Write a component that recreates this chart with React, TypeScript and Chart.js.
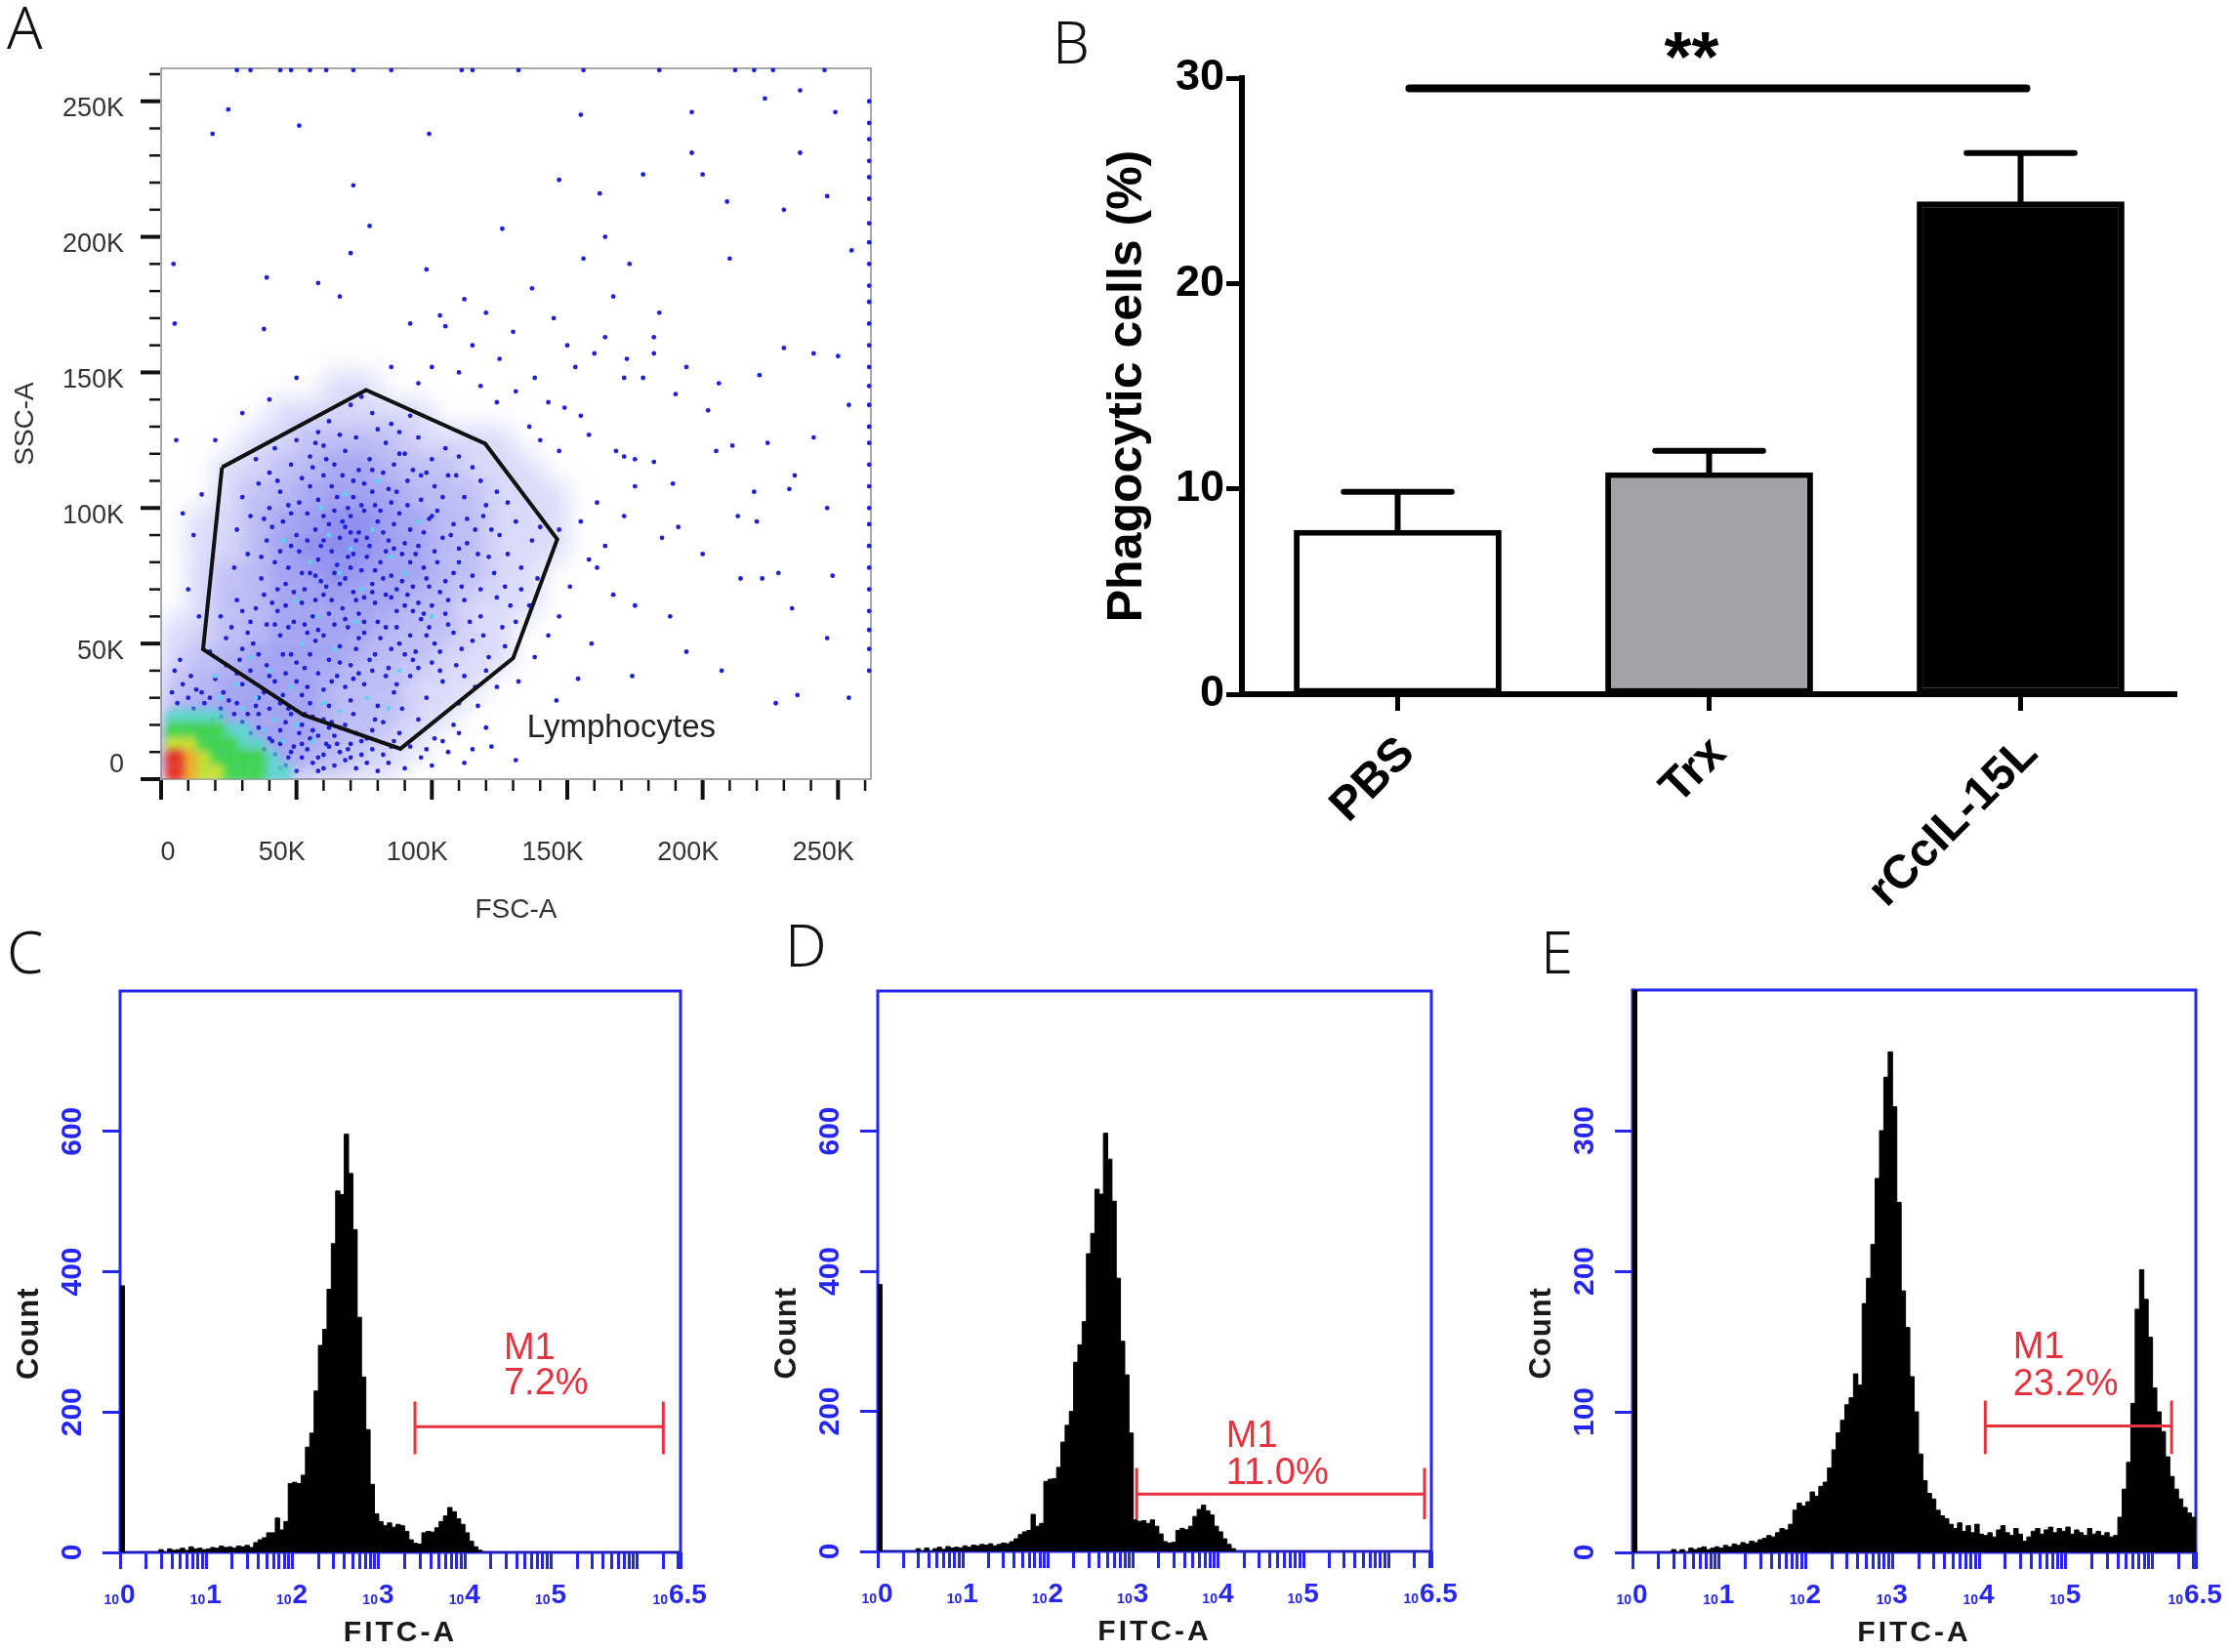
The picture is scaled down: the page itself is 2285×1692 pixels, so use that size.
import { useEffect, useRef } from 'react';
import { Chart, registerables } from 'chart.js';

Chart.register(...registerables);

const FONT = "'Liberation Sans', Arial, Helvetica, sans-serif";
const FLOW_BLUE = '#2626f0';
const MARK_RED = '#e6323e';

// ---------------- Panel A: FSC-A / SSC-A dot plot (values in thousands) ----------------
const axisMaxA = 262.144;
const aTickValues = [0, 50, 100, 150, 200, 250];
const aTickLabels = ['0', '50K', '100K', '150K', '200K', '250K'];

const gateVertices = [
  [22.5, 115], [75.7, 143.5], [119.7, 123.7], [146.3, 88.5],
  [130, 44.6], [88.4, 11.2], [52.5, 23.7], [15.5, 47.9],
];

const cloudDots = [
  [62,132],[70,138],[78,135],[85,131],[58,128],[92,134],[74,141],[66,127],[88,128],[80,129],
  [35,118],[42,122],[50,125],[55,119],[60,123],[68,121],[72,126],[77,118],[83,124],[90,120],
  [95,126],[100,118],[105,122],[48,116],[64,116],[86,116],[110,119],[40,113],[57,124],[98,113],
  [30,104],[36,109],[44,106],[52,111],[58,103],[63,108],[67,112],[71,104],[75,109],[79,101],
  [82,113],[87,106],[91,110],[96,103],[101,108],[106,112],[112,104],[118,110],[124,106],[47,101],
  [55,108],[69,100],[85,102],[93,114],[73,114],[60,112],[115,115],[128,102],[40,100],[78,106],
  [28,92],[33,97],[39,88],[45,95],[50,90],[54,98],[59,86],[62,94],[66,89],[70,97],
  [73,91],[77,86],[80,95],[84,88],[88,98],[92,92],[95,86],[99,96],[104,89],[108,94],
  [113,87],[119,97],[125,90],[131,95],[137,88],[57,92],[68,93],[75,99],[82,91],[90,87],
  [102,99],[64,99],[48,86],[110,85],[140,93],[116,92],[86,94],[72,88],[60,97],[97,91],
  [27,78],[32,83],[37,74],[42,80],[46,72],[51,84],[55,76],[58,81],[61,71],[65,79],
  [68,74],[71,83],[74,77],[78,72],[81,80],[85,75],[89,83],[93,71],[97,78],[101,84],
  [105,73],[110,80],[115,75],[121,82],[127,71],[133,78],[139,74],[63,84],[76,82],[87,70],
  [53,70],[66,72],[99,71],[83,84],[70,78],[57,75],[92,80],[118,70],[44,84],[108,76],
  [22,60],[28,66],[33,58],[38,68],[43,62],[47,56],[52,65],[56,60],[60,68],[64,57],
  [67,63],[71,69],[75,58],[79,65],[83,56],[87,62],[91,68],[96,59],[100,64],[106,57],
  [112,66],[118,60],[124,67],[131,58],[136,64],[49,69],[73,61],[85,67],[58,55],[95,65],
  [103,69],[69,56],[42,57],[30,62],[78,69],
  [18,47],[24,52],[29,44],[34,50],[39,42],[44,53],[48,46],[53,41],[57,51],[62,44],
  [66,49],[70,42],[75,54],[79,46],[84,41],[88,50],[93,44],[98,53],[103,47],[109,42],
  [115,51],[121,45],[127,49],[55,46],[72,48],[90,46],[36,46],[60,53],[81,52],[100,43],
  [15,32],[20,37],[25,29],[30,35],[35,27],[40,38],[45,31],[50,36],[55,28],[60,33],
  [65,38],[70,29],[75,35],[80,27],[86,32],[92,38],[98,30],[104,36],[110,28],[116,34],
  [58,39],[68,34],[83,38],[47,26],[38,32],[52,31],[28,39],[62,27],[89,26],[73,39],
  [22,23],[36,24],[41,14],[46,21],[51,17],[56,23],[61,13],[66,19],[71,24],[76,15],
  [82,21],[88,17],[95,22],[101,15],[108,20],[44,18],[58,16],[69,11],[79,22],[49,12],
  [63,21],[85,12],[53,24],
  [38,96],[43,110],[47,78],[51,102],[54,88],[56,115],[59,73],[61,118],[63,66],[65,104],
  [67,95],[69,82],[71,110],[72,66],[74,101],[76,89],[78,114],[79,77],[81,99],[83,68],
  [84,107],[86,85],[88,120],[89,73],[91,101],[93,62],[94,83],[96,112],[98,74],[100,97],
  [102,80],[104,104],[106,66],[107,90],[109,112],[111,71],[113,96],[117,83],[120,101],[123,76],
  [41,65],[45,46],[49,58],[52,76],[54,54],[57,66],[60,88],[62,61],[64,76],[66,43],
  [68,59],[70,91],[73,52],[75,67],[77,44],[80,58],[82,74],[85,48],[87,56],[90,64],
  [92,53],[94,47],[97,61],[99,56],[101,50],[105,61],[108,54],[111,48],[114,58],[119,53],
  [32,54],[35,63],[37,82],[39,57],[41,93],[43,70],[46,64],[48,98],[50,43],[53,57],
  [30,48],[26,56],[24,42],[33,40],[42,36],[46,39],[54,34],[63,36],[71,37],[78,40],
  [87,35],[95,41],[103,40],[112,38],[120,40],[126,56],[129,64],[133,70],[128,83],[122,92],
];

// tail of small events running from the origin into the gate
const tailDots = [
  [5,40],[8,35],[6,28],[10,30],[12,26],[16,28],[19,22],[22,26],[27,24],[30,21],
  [33,17],[36,19],[40,15],[44,13],[48,10],[52,8],[56,6],[60,9],[64,5],[68,7],
  [72,4],[76,6],[80,3],[42,9],[38,11],[13,33],[7,44],[11,38],[4,32],[18,30],
  [23,32],[46,5],[50,3],[54,11],[58,3],[62,12],[66,10],[70,13],[74,9],[78,11],
  [84,6],[90,4],[96,8],[100,5],[106,10],[112,6],
  [28,28],[32,24],[36,30],[40,26],[44,28],[48,24],[52,20],[56,18],[60,22],[64,16],
  [68,20],[72,17],[60,4],[65,13],[55,15],[47,8],[44,4],[52,13],[58,8],[62,19],
  [70,8],[74,14],[78,18],[82,9],[86,14],[92,12],[98,11],[104,14],[115,11],[120,19],
];

const cyanDots = [
  [55,80],[62,90],[70,85],[78,92],[66,76],[59,100],[74,70],[85,82],[50,66],[45,88],
  [68,105],[80,110],[90,76],[58,60],[64,48],[40,40],[48,34],[35,30],[28,35],[22,30],
  [30,26],[42,22],[50,20],[56,14],[45,14],[38,18],[60,28],[66,25],[20,38],[52,50],
  [72,58],[95,95],[100,60],[88,40],[76,30],[84,26],[25,42],[33,45],
];

const sparseDots = [
  [24.8,247],[51,241],[19,238],[99,238],[71,219],[77,204],[70,194],[4.6,190],[39,185],[98,188],
  [58,183],[66,178],[112,177],[5,168],[38,166],[92,168],[103,171],[105,167],[5.6,125],[8,98],
  [137,181],[155,245],[147,221],[196,246],[223,251],[236,254],[249,246],[196,231],[200,223],[178,223],
  [209,213],[236,231],[246,215],[230,210],[162,216],[126,203],[164,200],[156,192],[167,178],[173,190],
  [210,192],[255,195],[184,172],[182,163],[172,155],[178,148],[190,142],[202,136],[206,146],[221,149],
  [230,159],[241,157],[250,156],[254,138],[224,124],[241,126],[234,112],[219,106],[232,107],[246,100],
  [213,97],[220,95],[214,74],[222,74],[228,76],[248,75],[233,63],[246,52],[207,40],[227,28],
  [235,31],[254,30],[174,38],[188,60],[194,47],[175,64],[167,68],[159,50],[154,37],[146,29],
  [131,7],[122,12],[110,17],[161,78],[136,130],[140,125],[147,121],[155,134],[158,127],[149,137],
  [168,121],[171,119],[175,118],[161,102],[155,95],[147,92],[164,86],[158,81],[151,71],[147,60],
  [143,53],[138,45],[132,36],[124,34],[117,27],[171,97],[175,108],[182,117],[189,109],[191,93],
  [185,89],[200,83],[205,121],[211,123],[138,148],[131,143],[124,139],[143,139],[153,152],[160,157],
  [164,163],[171,148],[182,157],[194,152],[110,150],[118,145],[125,155],[100,152],[95,146],[85,152],
  [115,160],[130,165],[120,172],[145,170],[150,160],[20,125],[15,105],[12,90],[10,70],[14,60],
  [30,135],[40,140],[50,148],
];

const rightEdgeY = [250,242,236,228,222,214,205,198,190,182,176,168,160,152,145,138,130,124,116,108,100,94,86,78,70,62,55,48,40];
const topEdgeX = [28,33,44,48,55,61,71,85,111,115,132,156,184,212,219,226,245];

// blue haze: density level on a 10K grid
const densityX = [5,15,25,35,45,55,65,75,85,95,105,115,125,135,145,155];
const densityY = [145,135,125,115,105,95,85,75,65,55,45,35,25,15,5];
const densityLevels = [
  [0,0,0,0,0,0,1,1,0,0,0,0,0,0,0,0],
  [0,0,0,0,1,1,1,1,1,1,0,0,0,0,0,0],
  [0,0,0,1,1,2,2,2,2,1,1,1,1,0,0,0],
  [0,0,1,1,2,2,3,3,2,2,2,1,1,1,0,0],
  [0,0,1,2,2,3,3,3,3,2,2,2,1,1,1,0],
  [0,1,1,2,3,3,4,4,3,3,2,2,1,1,1,0],
  [0,1,1,2,3,4,4,4,3,3,2,2,1,1,1,0],
  [0,1,2,2,3,3,4,3,3,3,2,2,1,1,0,0],
  [0,1,2,2,3,3,3,3,3,2,2,1,1,1,0,0],
  [1,1,2,2,3,3,3,3,2,2,2,1,1,0,0,0],
  [1,2,2,3,3,3,3,2,2,2,1,1,1,0,0,0],
  [2,2,3,3,3,3,2,2,2,1,1,1,0,0,0,0],
  [2,3,3,3,3,3,2,2,2,1,1,0,0,0,0,0],
  [3,3,3,3,3,3,2,2,1,1,0,0,0,0,0,0],
  [3,3,3,3,3,2,2,1,1,0,0,0,0,0,0,0],
];
const hazeAlpha = [0, 0.14, 0.26, 0.38, 0.5];

// hot spot near the origin on a 5K grid (1 cyan .. 5 red)
const hotX = [5,10,15,20,25,30,35,40,45];
const hotY = [22.5,17.5,12.5,7.5,2.5];
const hotLevels = [
  [1,1,1,1,0,0,0,0,0],
  [2,2,2,2,1,1,0,0,0],
  [3,3,2,2,2,1,1,0,0],
  [5,4,3,2,2,2,2,1,0],
  [5,4,3,3,2,2,2,1,1],
];
const hotColors = ['', '#5ed8cc', '#3cd64a', '#c6e42c', '#f3b01e', '#e8301a'];

// ---------------- Panel B: bar chart ----------------
const groups = ['PBS', 'Trx', 'rCcIL-15L'];
const means = [8.0, 10.8, 24.0];
const sems = [1.85, 1.05, 2.35];
const barFills = ['#ffffff', '#a2a2a6', '#000000'];
const yTicksB = [0, 10, 20, 30];
const sigLevel = 29.5;

// ---------------- Panels C-E: FITC-A histograms (x in decades) ----------------
const binStart = [
  0,0.05,0.1,0.15,0.2,0.25,0.3,0.35,0.4,0.45,
  0.5,0.55,0.6,0.65,0.7,0.75,0.8,0.85,0.9,0.95,
  1,1.05,1.1,1.15,1.2,1.25,1.3,1.35,1.4,1.45,
  1.5,1.55,1.6,1.65,1.7,1.75,1.8,1.85,1.9,1.95,
  2,2.05,2.1,2.15,2.2,2.25,2.3,2.35,2.4,2.45,
  2.5,2.55,2.6,2.65,2.7,2.75,2.8,2.85,2.9,2.95,
  3,3.05,3.1,3.15,3.2,3.25,3.3,3.35,3.4,3.45,
  3.5,3.55,3.6,3.65,3.7,3.75,3.8,3.85,3.9,3.95,
  4,4.05,4.1,4.15,4.2,4.25,4.3,4.35,4.4,4.45,
  4.5,4.55,4.6,4.65,4.7,4.75,4.8,4.85,4.9,4.95,
  5,5.05,5.1,5.15,5.2,5.25,5.3,5.35,5.4,5.45,
  5.5,5.55,5.6,5.65,5.7,5.75,5.8,5.85,5.9,5.95,
  6,6.05,6.1,6.15,6.2,6.25,6.3,6.35,6.4,6.45,
];
const binEnd = 6.5;

const countsC = [
  380,0,0,0,0,0,0,0,0,4,
  0,5,3,4,6,3,8,5,6,4,
  5,7,6,9,7,8,6,9,8,10,
  7,14,18,21,28,28,49,32,44,98,
  100,98,110,150,170,230,295,318,375,440,
  515,510,596,540,460,335,250,175,97,55,
  44,38,42,36,40,38,30,18,13,12,
  28,30,29,35,44,52,64,58,48,40,
  28,16,8,3,0,0,0,0,0,0,
  0,0,0,0,0,0,0,0,0,0,
  0,0,0,0,0,0,0,0,0,0,
  0,0,0,0,0,0,0,0,0,0,
  0,0,0,0,0,0,0,0,0,0,
];
const countsD = [
  381,0,0,0,0,0,0,0,0,4,
  0,5,0,4,6,3,7,5,6,5,
  8,6,9,8,10,9,11,8,10,12,
  11,14,18,24,28,30,53,36,40,100,
  103,104,120,156,180,200,270,295,328,425,
  454,517,510,597,560,500,390,300,252,169,
  45,43,44,40,45,36,25,14,12,13,
  30,33,31,36,50,60,66,58,52,36,
  28,18,10,4,0,0,0,0,0,0,
  0,0,0,0,0,0,0,0,0,0,
  0,0,0,0,0,0,0,0,0,0,
  0,0,0,0,0,0,0,0,0,0,
  0,0,0,0,0,0,0,0,0,0,
];
const countsE = [
  400,0,0,0,0,0,0,0,0,2,
  0,2,0,3,2,3,4,2,3,4,
  3,5,4,6,5,7,6,8,7,9,
  10,12,11,14,17,16,20,30,35,33,
  36,43,40,47,50,60,73,85,94,105,
  110,127,119,177,195,219,266,300,338,356,
  317,249,186,160,125,100,70,51,42,38,
  30,26,24,20,17,21,15,19,14,20,
  13,12,14,11,16,19,14,12,17,13,
  8,11,15,17,13,16,18,14,17,15,
  18,13,16,14,12,17,13,15,12,14,
  11,12,25,45,64,106,173,201,180,153,
  117,100,86,68,54,45,38,32,28,25,
];

const decadeTicks = [0, 1, 2, 3, 4, 5, 6.5];
const decadeLabels = ['0', '1', '2', '3', '4', '5', '6.5'];
const countTicksCD = [0, 200, 400, 600];
const countTicksE = [0, 100, 200, 300];

const markerC = { from: 3.42, to: 6.3, level: 179, capLow: 140, capHigh: 215, textAt: 4.45, nameY: 276, pctY: 225, pct: '7.2%' };
const markerD = { from: 3.04, to: 6.42, level: 82, capLow: 46, capHigh: 119, textAt: 4.09, nameY: 149, pctY: 96, pct: '11.0%' };
const markerE = { from: 4.07, to: 6.22, level: 90, capLow: 70, capHigh: 108, textAt: 4.39, nameY: 138, pctY: 112, pct: '23.2%' };

// log minor tick positions (in decades) for the FITC-A axis
const logTickPositions: number[] = [];
for (let d = 0; d <= 6; d++) {
  for (let k = 1; k <= 9; k++) {
    const v = d + Math.log10(k);
    if (v <= 6.5) logTickPositions.push(v);
  }
}
logTickPositions.push(6.5);

const toXY = (p: number[]) => ({ x: p[0], y: p[1] });

// ---------------- plugins ----------------
// blurs datasets flagged with `blur` so density layers blend smoothly
const softLayers = {
  id: 'softLayers',
  beforeDatasetDraw(chart: any, args: any) {
    const b = chart.data.datasets[args.index].blur;
    if (b) {
      chart.ctx.save();
      chart.ctx.filter = `blur(${b}px)`;
    }
  },
  afterDatasetDraw(chart: any, args: any) {
    if (chart.data.datasets[args.index].blur) chart.ctx.restore();
  },
};

const dotPlotDecor = {
  id: 'dotPlotDecor',
  beforeDatasetsDraw(chart: any) {
    const { ctx, chartArea: a } = chart;
    ctx.save();
    ctx.strokeStyle = '#8c8c8c';
    ctx.lineWidth = 1.5;
    ctx.strokeRect(a.left, a.top, a.right - a.left, a.bottom - a.top);
    ctx.restore();
  },
  afterDraw(chart: any) {
    const { ctx, chartArea: a, scales: { x, y } } = chart;
    ctx.save();
    ctx.strokeStyle = '#111';
    for (let v = 0; v <= 260; v += 10) {
      const major = v % 50 === 0;
      const len = major ? 20 : 11;
      ctx.lineWidth = major ? 4 : 2.5;
      const px = x.getPixelForValue(v);
      ctx.beginPath();
      ctx.moveTo(px, a.bottom + 1);
      ctx.lineTo(px, a.bottom + 1 + len);
      ctx.stroke();
      const py = y.getPixelForValue(v);
      ctx.beginPath();
      ctx.moveTo(a.left - 1, py);
      ctx.lineTo(a.left - 1 - len, py);
      ctx.stroke();
    }
    ctx.fillStyle = '#333';
    ctx.font = `27px ${FONT}`;
    ctx.textBaseline = 'middle';
    aTickValues.forEach((v, i) => {
      ctx.textAlign = 'right';
      ctx.fillText(aTickLabels[i], a.left - 38, y.getPixelForValue(v) + (v === 0 ? -14 : 8));
      ctx.textAlign = 'center';
      ctx.fillText(aTickLabels[i], x.getPixelForValue(v) + (v === 0 ? 7 : -15), a.bottom + 76);
    });
    ctx.font = `28px ${FONT}`;
    ctx.fillText('FSC-A', (a.left + a.right) / 2, a.bottom + 134);
    ctx.save();
    ctx.translate(26, (a.top + a.bottom) / 2);
    ctx.rotate(-Math.PI / 2);
    ctx.fillText('SSC-A', 0, 0);
    ctx.restore();
    ctx.fillStyle = '#222';
    ctx.font = `33px ${FONT}`;
    ctx.fillText('Lymphocytes', x.getPixelForValue(170), y.getPixelForValue(18.7));
    ctx.restore();
  },
};

const errorBars = {
  id: 'errorBars',
  afterDatasetsDraw(chart: any) {
    const { ctx, scales: { x, y } } = chart;
    const meta = chart.getDatasetMeta(0);
    ctx.save();
    ctx.strokeStyle = '#000';
    ctx.lineWidth = 6;
    ctx.lineCap = 'round';
    meta.data.forEach((bar: any, i: number) => {
      const top = y.getPixelForValue(means[i]);
      const end = y.getPixelForValue(means[i] + sems[i]);
      const half = bar.width * 0.26;
      ctx.beginPath();
      ctx.moveTo(bar.x, top);
      ctx.lineTo(bar.x, end);
      ctx.moveTo(bar.x - half, end);
      ctx.lineTo(bar.x + half, end);
      ctx.stroke();
    });
    const sy = y.getPixelForValue(sigLevel);
    const x0 = x.getPixelForValue(0) + 12;
    const x2 = x.getPixelForValue(2) + 6;
    ctx.lineWidth = 8;
    ctx.beginPath();
    ctx.moveTo(x0, sy);
    ctx.lineTo(x2, sy);
    ctx.stroke();
    ctx.fillStyle = '#000';
    ctx.font = `bold 72px ${FONT}`;
    ctx.textAlign = 'center';
    ctx.textBaseline = 'alphabetic';
    ctx.fillText('**', (x0 + x2) / 2 - 27, sy - 8);
    ctx.restore();
  },
};

function histogramDecor(countTicks: number[], marker: any) {
  return {
    id: 'histDecor',
    beforeDatasetsDraw(chart: any) {
      const { ctx, chartArea: a } = chart;
      ctx.save();
      ctx.strokeStyle = FLOW_BLUE;
      ctx.lineWidth = 3;
      ctx.strokeRect(a.left, a.top, a.right - a.left, a.bottom - a.top);
      ctx.restore();
    },
    afterDatasetsDraw(chart: any) {
      const { ctx, scales: { x, y } } = chart;
      const l = x.getPixelForValue(marker.from);
      const r = x.getPixelForValue(marker.to);
      const ym = y.getPixelForValue(marker.level);
      const c1 = y.getPixelForValue(marker.capHigh);
      const c2 = y.getPixelForValue(marker.capLow);
      ctx.save();
      ctx.strokeStyle = MARK_RED;
      ctx.lineWidth = 3;
      ctx.beginPath();
      ctx.moveTo(l, ym);
      ctx.lineTo(r, ym);
      ctx.moveTo(l, c1);
      ctx.lineTo(l, c2);
      ctx.moveTo(r, c1);
      ctx.lineTo(r, c2);
      ctx.stroke();
      ctx.fillStyle = MARK_RED;
      ctx.font = `38px ${FONT}`;
      ctx.textAlign = 'left';
      ctx.textBaseline = 'alphabetic';
      const tx = x.getPixelForValue(marker.textAt);
      ctx.fillText('M1', tx, y.getPixelForValue(marker.nameY));
      ctx.fillText(marker.pct, tx, y.getPixelForValue(marker.pctY));
      ctx.restore();
    },
    afterDraw(chart: any) {
      const { ctx, chartArea: a, scales: { x, y } } = chart;
      ctx.save();
      ctx.fillStyle = FLOW_BLUE;
      ctx.textBaseline = 'middle';
      ctx.textAlign = 'center';
      ctx.font = `bold 30px ${FONT}`;
      countTicks.forEach((t) => {
        ctx.save();
        ctx.translate(a.left - 48, y.getPixelForValue(t));
        ctx.rotate(-Math.PI / 2);
        ctx.fillText(String(t), 0, 0);
        ctx.restore();
      });
      ctx.textBaseline = 'alphabetic';
      const base = a.bottom + 52;
      decadeTicks.forEach((v, i) => {
        const px = x.getPixelForValue(v) + (v === 6.5 ? -12 : 0);
        ctx.font = `bold 14px ${FONT}`;
        ctx.textAlign = 'right';
        ctx.fillText('10', px - 1, base + 1);
        ctx.font = `bold 28px ${FONT}`;
        ctx.textAlign = 'left';
        ctx.fillText(decadeLabels[i], px, base);
      });
      ctx.fillStyle = '#1a1a1a';
      ctx.font = `bold 30px ${FONT}`;
      ctx.textAlign = 'center';
      ctx.textBaseline = 'middle';
      (ctx as any).letterSpacing = '3px';
      ctx.fillText('FITC-A', (a.left + a.right) / 2, a.bottom + 83);
      ctx.save();
      ctx.translate(a.left - 93, a.top + 0.61 * (a.bottom - a.top));
      ctx.rotate(-Math.PI / 2);
      (ctx as any).letterSpacing = '1px';
      ctx.font = `bold 31px ${FONT}`;
      ctx.fillText('Count', 0, 0);
      ctx.restore();
      ctx.restore();
    },
  };
}

// ---------------- chart configs ----------------
function dotPlotConfig(): any {
  const hot: any[] = [];
  hotY.forEach((yv, r) => hotX.forEach((xv, c) => {
    if (hotLevels[r][c] > 0) hot.push({ x: xv, y: yv, level: hotLevels[r][c] });
  }));
  hot.sort((p, q) => p.level - q.level);
  const haze: any[] = [];
  densityY.forEach((yv, r) => densityX.forEach((xv, c) => {
    if (densityLevels[r][c] > 0) haze.push({ x: xv, y: yv, level: densityLevels[r][c] });
  }));
  const blue = cloudDots.concat(tailDots, sparseDots).map(toXY)
    .concat(rightEdgeY.map((v) => ({ x: 261.5, y: v })))
    .concat(topEdgeX.map((v) => ({ x: v, y: 261.5 })));
  return {
    type: 'scatter',
    data: {
      datasets: [
        {
          data: gateVertices.concat([gateVertices[0]]).map(toXY),
          showLine: true, fill: false, tension: 0,
          borderColor: '#111', borderWidth: 4, pointRadius: 0, order: 0, clip: 6,
        },
        {
          data: hot, pointRadius: 10, pointBorderWidth: 0, blur: 4,
          pointBackgroundColor: hot.map((p) => hotColors[p.level]), order: 1, clip: 0,
        },
        {
          data: cyanDots.map(toXY), pointRadius: 2.4, pointBorderWidth: 0,
          pointBackgroundColor: '#5cd2f0', order: 2, clip: 3,
        },
        {
          data: blue, pointRadius: 2.4, pointBorderWidth: 0,
          pointBackgroundColor: '#2020d4', order: 3, clip: 3,
        },
        {
          data: haze, pointRadius: 18, pointBorderWidth: 0, blur: 12,
          pointBackgroundColor: haze.map((p) => `rgba(40,40,225,${hazeAlpha[p.level]})`), order: 4, clip: 0,
        },
      ],
    },
    options: {
      animation: false,
      responsive: false,
      events: [],
      layout: { padding: { left: 165, top: 70, right: 108, bottom: 162 } },
      plugins: { legend: { display: false }, tooltip: { enabled: false } },
      scales: {
        x: { type: 'linear', min: 0, max: axisMaxA, display: false },
        y: { type: 'linear', min: 0, max: axisMaxA, display: false },
      },
    },
    plugins: [softLayers, dotPlotDecor],
  };
}

function barConfig(): any {
  return {
    type: 'bar',
    data: {
      labels: groups,
      datasets: [{
        data: means,
        backgroundColor: barFills,
        borderColor: '#000',
        borderWidth: 6,
        borderSkipped: false,
        barPercentage: 0.667,
        categoryPercentage: 1,
      }],
    },
    options: {
      animation: false,
      responsive: false,
      events: [],
      layout: { padding: { left: 0, top: 80, right: 56, bottom: 0 } },
      plugins: { legend: { display: false }, tooltip: { enabled: false } },
      scales: {
        x: {
          grid: { offset: false, drawOnChartArea: false, drawTicks: true, tickLength: 17, tickWidth: 5, tickColor: '#000' },
          border: { display: true, width: 6, color: '#000' },
          ticks: {
            font: { family: FONT, size: 48, weight: 'bold' }, color: '#000',
            maxRotation: 45, minRotation: 45, padding: 16, labelOffset: 10,
          },
          afterFit: (s: any) => { s.height = 249; },
        },
        y: {
          min: 0,
          max: 30,
          afterBuildTicks: (s: any) => { s.ticks = yTicksB.map((v) => ({ value: v })); },
          grid: { drawOnChartArea: false, drawTicks: true, tickLength: 16, tickWidth: 5, tickColor: '#000' },
          border: { display: true, width: 6, color: '#000' },
          ticks: { font: { family: FONT, size: 45, weight: 'bold' }, color: '#000', padding: 2 },
          title: {
            display: true, text: 'Phagocytic cells (%)', color: '#000',
            font: { family: FONT, size: 50, weight: 'bold' }, padding: { top: 85, bottom: 0 },
          },
          afterFit: (s: any) => { s.width = 232; },
        },
      },
    },
    plugins: [errorBars],
  };
}

function histogramConfig(counts: number[], countMax: number, countTicks: number[], marker: any, pad: any): any {
  const points = binStart.map((b, i) => ({ x: b, y: counts[i] }));
  points.push({ x: binEnd, y: counts[counts.length - 1] });
  return {
    type: 'line',
    data: {
      datasets: [{
        data: points, stepped: 'before', fill: 'origin',
        backgroundColor: '#000', borderColor: '#000', borderWidth: 1, pointRadius: 0,
      }],
    },
    options: {
      animation: false,
      responsive: false,
      events: [],
      layout: { padding: { left: 0, top: pad.top, right: pad.right, bottom: 0 } },
      plugins: { legend: { display: false }, tooltip: { enabled: false } },
      scales: {
        x: {
          type: 'linear', min: 0, max: 6.5,
          afterBuildTicks: (s: any) => { s.ticks = logTickPositions.map((v) => ({ value: v })); },
          ticks: { display: false, autoSkip: false },
          grid: { drawOnChartArea: false, drawTicks: true, tickLength: 17, tickWidth: 3, tickColor: FLOW_BLUE },
          border: { display: false },
          afterFit: (s: any) => { s.height = pad.bottom; },
        },
        y: {
          type: 'linear', min: 0, max: countMax,
          afterBuildTicks: (s: any) => { s.ticks = countTicks.map((v) => ({ value: v })); },
          ticks: { display: false },
          grid: { drawOnChartArea: false, drawTicks: true, tickLength: 18, tickWidth: 3, tickColor: FLOW_BLUE },
          border: { display: false },
          afterFit: (s: any) => { s.width = pad.left; },
        },
      },
    },
    plugins: [histogramDecor(countTicks, marker)],
  };
}

// ---------------- components ----------------
function ChartBox({ left, top, width, height, makeConfig }: any) {
  const canvasRef = useRef<HTMLCanvasElement>(null);
  useEffect(() => {
    const el = canvasRef.current;
    if (!el) return;
    const chart = new Chart(el, makeConfig());
    return () => chart.destroy();
  }, []);
  return (
    <div style={{ position: 'absolute', left, top, width, height }}>
      <canvas ref={canvasRef} width={width} height={height} style={{ display: 'block', width, height }} />
    </div>
  );
}

function PanelLetter({ left, top, text }: any) {
  return (
    <div style={{
      position: 'absolute', left, top, fontSize: 60, lineHeight: '60px',
      fontFamily: "'Noto Sans', 'DejaVu Sans', sans-serif", fontWeight: 300, color: '#111',
    }}>{text}</div>
  );
}

export default function App() {
  return (
    <div style={{ position: 'absolute', left: 0, top: 0, width: 2285, height: 1692, background: '#fff', overflow: 'hidden' }}>
      <ChartBox left={0} top={0} width={1000} height={960} makeConfig={dotPlotConfig} />
      <ChartBox left={1040} top={0} width={1245} height={960} makeConfig={barConfig} />
      <ChartBox left={0} top={960} width={770} height={732}
        makeConfig={() => histogramConfig(countsC, 800, countTicksCD, markerC, { left: 123, top: 55, right: 73, bottom: 102 })} />
      <ChartBox left={780} top={960} width={770} height={732}
        makeConfig={() => histogramConfig(countsD, 800, countTicksCD, markerD, { left: 119, top: 55, right: 84, bottom: 103 })} />
      <ChartBox left={1540} top={960} width={745} height={732}
        makeConfig={() => histogramConfig(countsE, 400, countTicksE, markerE, { left: 132, top: 54, right: 36, bottom: 102 })} />
      <PanelLetter left={7} top={-3} text="A" />
      <PanelLetter left={1078} top={12} text="B" />
      <PanelLetter left={7} top={944} text="C" />
      <PanelLetter left={804} top={937} text="D" />
      <PanelLetter left={1578} top={944} text="E" />
    </div>
  );
}
